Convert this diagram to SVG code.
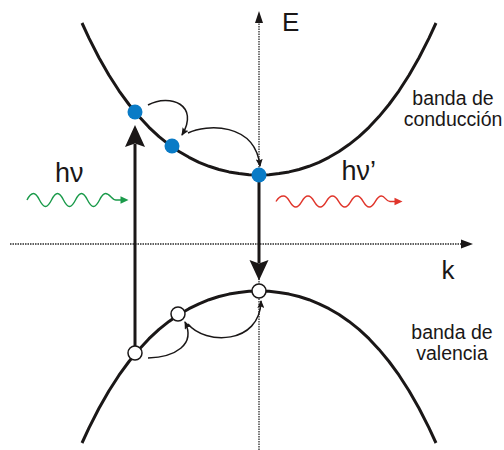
<svg xmlns="http://www.w3.org/2000/svg" width="504" height="450" viewBox="0 0 504 450">
<style>
.axis{fill:none;stroke:#2a2a2a;stroke-width:1.3;stroke-dasharray:1.5 1}
.band{fill:none;stroke:#1a1717;stroke-width:3;stroke-linejoin:round;stroke-linecap:butt}
.thick{fill:none;stroke:#1a1717;stroke-width:3}
.head{fill:#1a1717}
.arc{fill:none;stroke:#1a1717;stroke-width:1.5;marker-end:url(#ah)}
.e{fill:#0a7bc6}
.h{fill:#ffffff;stroke:#1a1717;stroke-width:1.5}
.lbl{font-family:"Liberation Sans",Arial,sans-serif;fill:#1a1717}
.big{font-size:26px}
.hv{font-size:27px}
.band-lbl{font-size:19.5px;text-anchor:middle}
</style>
<defs>
<marker id="ah" viewBox="0 0 8 7" refX="7" refY="3.5" markerWidth="8" markerHeight="7" markerUnits="userSpaceOnUse" orient="auto">
<path d="M0,0 L8,3.5 L0,7 L1.5,3.5 z" fill="#1a1717"/>
</marker>
</defs>
<g id="axes">
<line class="axis" x1="259" y1="450" x2="259" y2="22"/>
<polygon class="head" points="259,11 255,23 263,23"/>
<line class="axis" x1="10" y1="244" x2="462" y2="244"/>
<polygon class="head" points="473,244 461,239.5 461,248.5"/>
</g>
<g id="conduction-band">
<polyline class="band" points="82,23 89,38.1 99,57.8 109,75.2 119,90.8 129,104.5 139,116.6 149,127.3 159,136.6 169,144.6 179,151.5 189,157.3 199,162.3 209,166.3 219,169.5 229,171.9 239,173.6 249,174.7 259,175 269,174.7 279,173.6 289,171.9 299,169.5 309,166.3 319,162.3 329,157.3 339,151.5 349,144.6 359,136.6 369,127.3 379,116.6 389,104.5 399,90.8 409,75.2 419,57.8 429,38.1 436,23"/>
</g>
<g id="valence-band">
<polyline class="band" points="82,443 89,427.9 99,408.3 109,390.8 119,375.2 129,361.5 139,349.4 149,338.7 159,329.4 169,321.4 179,314.5 189,308.7 199,303.8 209,299.7 219,296.5 229,294.1 239,292.4 249,291.3 259,291 269,291.3 279,292.4 289,294.1 299,296.5 309,299.7 319,303.8 329,308.7 339,314.5 349,321.4 359,329.4 369,338.7 379,349.4 389,361.5 399,375.2 409,390.8 419,408.3 429,427.9 436,443"/>
</g>
<g id="connectors">
<line class="thick" x1="135" y1="346" x2="135" y2="144"/>
<polygon class="head" points="135,125 125,147 135,143.5 145,147"/>
<line class="thick" x1="259" y1="182" x2="259" y2="263"/>
<polygon class="head" points="259,280.5 249.5,260 259,263.5 268.5,260"/>
<path class="arc" d="M148,105 C170,93 200,105 182,135"/>
<path class="arc" d="M188,133 C206,124 255,122 260,166"/>
<path class="arc" d="M148,358 C175,357 196,345 185,322"/>
<path class="arc" d="M188,324 C205,345 260,345 261,301"/>
</g>
<g id="photon-in">
<path d="M27,200 C29,196 31,193.5 33.5,193.5 C39,193.5 40,206.5 45.5,206.5 C51,206.5 52,193.5 57.5,193.5 C63,193.5 64,206.5 69.5,206.5 C75,206.5 76,193.5 81.5,193.5 C87,193.5 88,206.5 93.5,206.5 C99,206.5 100,193.5 105.5,193.5 C110,193.5 112,200 116,200 L122,200" fill="none" stroke="#1a9a4a" stroke-width="1.4"/>
<polygon points="128.5,200 120.5,196.2 120.5,203.8" fill="#1a9a4a"/>
</g>
<g id="photon-out">
<path d="M276,201.5 C278,198 280.5,196 283.5,196 C289.5,196 290,207 295.75,207 C301.5,207 302,196 308,196 C314,196 314.5,207 320.25,207 C326,207 326.5,196 332.5,196 C338.5,196 339,207 344.75,207 C350.5,207 351,196 357,196 C363,196 363.5,207 369.25,207 C375,207 375.5,196 381.5,196 C385,196 386,201.5 390,201.5 L396,201.5" fill="none" stroke="#e0352b" stroke-width="1.4"/>
<polygon points="402.5,201.5 394.5,197.7 394.5,205.3" fill="#e0352b"/>
</g>
<g id="electron-1"><circle class="e" cx="135" cy="112" r="7.5"/></g>
<g id="electron-2"><circle class="e" cx="172" cy="146" r="7.5"/></g>
<g id="electron-3"><circle class="e" cx="259" cy="175" r="7.5"/></g>
<g id="hole-1"><circle class="h" cx="135" cy="353" r="7"/></g>
<g id="hole-2"><circle class="h" cx="178" cy="314" r="7"/></g>
<g id="hole-3"><circle class="h" cx="259" cy="291" r="7"/></g>
<g id="labels">
<text class="lbl big" x="282" y="31">E</text>
<text class="lbl big" x="441.5" y="279">k</text>
<text class="lbl hv" x="55" y="182">hν</text>
<text class="lbl hv" x="341.5" y="180">hν’</text>
<text class="lbl band-lbl" x="453" y="104.5">banda de</text>
<text class="lbl band-lbl" x="453" y="125.5">conducción</text>
<text class="lbl band-lbl" x="452" y="338.5">banda de</text>
<text class="lbl band-lbl" x="452" y="359.5">valencia</text>
</g>
</svg>
